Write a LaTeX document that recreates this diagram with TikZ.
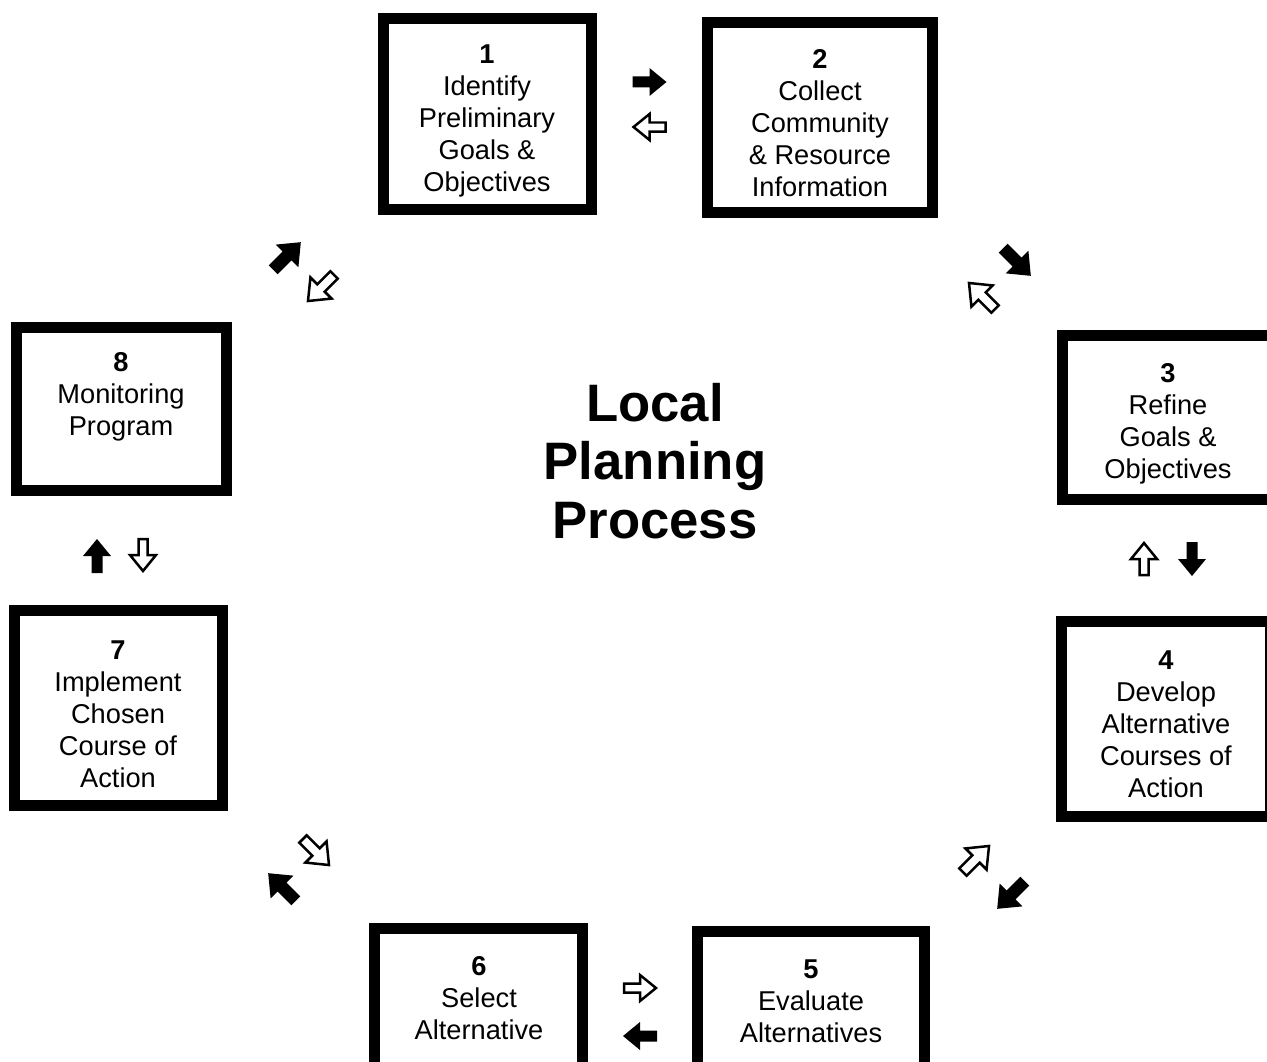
\documentclass[tikz,border=0pt]{standalone}
\usepackage{fontspec}
\setmainfont{Liberation Sans}
\tikzset{
  procbox/.style 2 args={draw=black, line width=0.22cm, fill=white, inner sep=0pt,
    minimum width=#1*0.02cm, minimum height=#2*0.02cm},
  proctext/.style={align=center, inner sep=0pt, font=\fontsize{15.5}{18.2}\selectfont},
  fullarr/.pic={\fill[black] (-17,-5.5) -- (0,-5.5) -- (0,-14) -- (17,0) -- (0,14) -- (0,5.5) -- (-17,5.5) -- cycle;},
  openarr/.pic={\draw[black, line width=0.05cm, fill=white, line join=miter] (-16,-4.5) -- (0,-4.5) -- (0,-13) -- (16,0) -- (0,13) -- (0,4.5) -- (-16,4.5) -- cycle;},
  diag/.style={scale=1.15},
}
\begin{document}
\begin{tikzpicture}[x=0.02cm,y=-0.02cm]
  \useasboundingbox (0,0) rectangle (1267,1061);
  \clip (0,0) rectangle (1267,1061);
  %% boxes
  \node[procbox={208}{191}] (b1) at (487.5,114) {};
  \node[procbox={225}{190}] (b2) at (820,117.5) {};
  \node[procbox={211}{164}] (b3) at (1168,417.5) {};
  \node[procbox={209}{195}] (b4) at (1166,719) {};
  \node[procbox={227}{148}] (b5) at (811,1005.5) {};
  \node[procbox={208}{148}] (b6) at (478.5,1002.5) {};
  \node[procbox={208}{195}] (b7) at (118.5,708) {};
  \node[procbox={210}{163}] (b8) at (121.5,409) {};
  % texts in the boxes
  \node[proctext] (t1) at (487,121) {\textbf{1}\\Identify\\Preliminary\\Goals \&\\Objectives};
  \node[proctext] (t2) at (820,123.5) {\textbf{2}\\Collect\\Community\\\& Resource\\Information};
  \node[proctext] (t3) at (1168,424) {\textbf{3}\\Refine\\Goals \&\\Objectives};
  \node[proctext] (t4) at (1166,724) {\textbf{4}\\Develop\\Alternative\\Courses of\\Action};
  \node[proctext] (t5) at (811,1001) {\textbf{5}\\Evaluate\\Alternatives};
  \node[proctext] (t6) at (479,998) {\textbf{6}\\Select\\Alternative};
  \node[proctext] (t7) at (118,714) {\textbf{7}\\Implement\\Chosen\\Course of\\Action};
  \node[proctext] (t8) at (121,397) {\textbf{8}\\Monitoring\\Program};
  \node[align=center, inner sep=0pt, font=\bfseries\fontsize{30}{33.3}\selectfont] (title) at (655,461) {Local\\Planning\\Process};
  % arrows between boxes
  \pic[rotate=0] at (649.5,82) {fullarr};
  \pic[rotate=180] at (649.5,127) {openarr};
  \pic[diag,rotate=-45] at (1017,262) {fullarr};
  \pic[diag,rotate=135] at (982,296) {openarr};
  \pic[rotate=90] at (1144,559) {openarr};
  \pic[rotate=-90] at (1192,559) {fullarr};
  \pic[diag,rotate=45] at (976,859) {openarr};
  \pic[diag,rotate=-135] at (1011,895) {fullarr};
  \pic[rotate=0] at (640,988) {openarr};
  \pic[rotate=180] at (640,1036) {fullarr};
  \pic[diag,rotate=-45] at (316,852) {openarr};
  \pic[diag,rotate=135] at (282,887) {fullarr};
  \pic[rotate=-90] at (143,555) {openarr};
  \pic[rotate=90] at (97,556) {fullarr};
  \pic[diag,rotate=-135] at (321,288) {openarr};
  \pic[diag,rotate=45] at (287,256) {fullarr};
\end{tikzpicture}
\end{document}
